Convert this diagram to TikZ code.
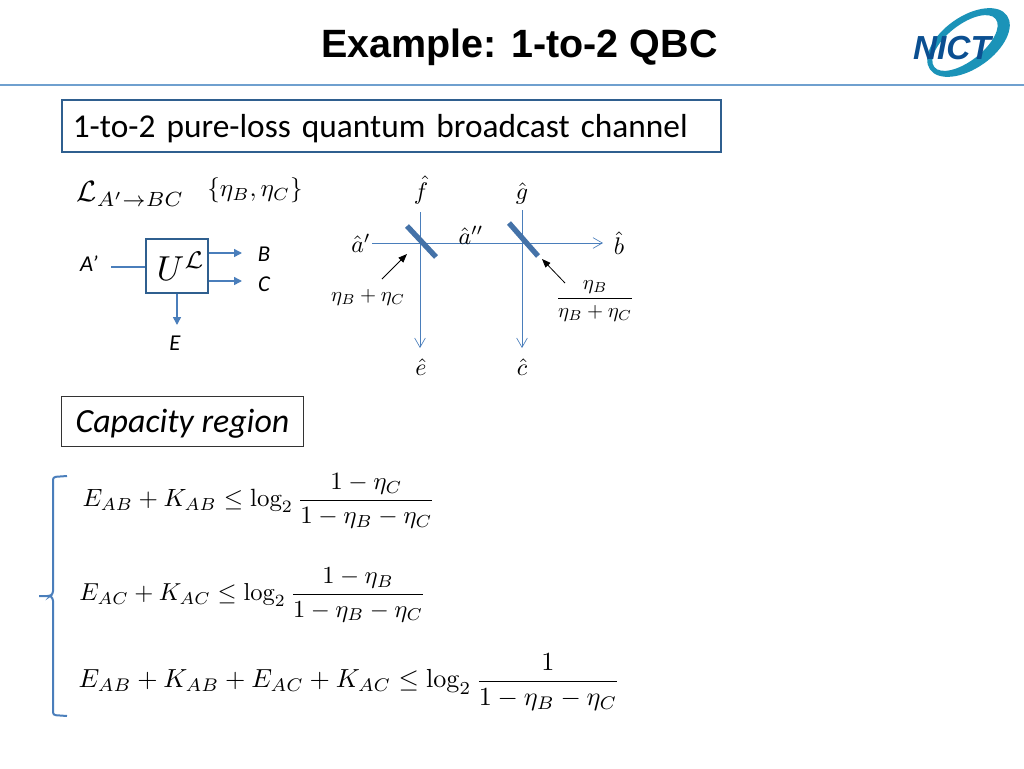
\documentclass[tikz,border=0pt]{standalone}
\usepackage{amsmath}
\usepackage{fontspec}
\newfontfamily\titlefont{Liberation Sans}
\newfontfamily\boxfont{Carlito}
\usetikzlibrary{arrows.meta}
\definecolor{rulecol}{HTML}{6FA0CF}
\definecolor{framecol}{HTML}{2F5F8F}
\definecolor{linecol}{HTML}{4A7EBB}
\definecolor{splitcol}{HTML}{4472A8}
\definecolor{logodark}{HTML}{0B4F91}
\definecolor{logoteal}{HTML}{1B93B8}
\tikzset{
  wire/.style={linecol, line width=0.75pt},
  thinwire/.style={linecol, line width=0.5pt, -{Straight Barb[length=7pt,width=8pt]}},
  outwire/.style={linecol, line width=1.1pt, -{Triangle[length=6pt,width=6pt]}},
  splitter/.style={splitcol, line width=4pt},
  pointer/.style={black, line width=0.6pt, -{Triangle[length=6.5pt,width=5pt]}},
  mathlabel/.style={inner sep=0pt, scale=1.8},
  smallmath/.style={inner sep=0pt, scale=1.55},
  eqnlabel/.style={inner sep=0pt, anchor=west},
  portlabel/.style={inner sep=0pt, font=\boxfont\itshape\fontsize{17}{19}\selectfont}
}
\begin{document}
\begin{tikzpicture}[x=0.75pt, y=-0.75pt]
        \useasboundingbox (0,0) rectangle (1024,768);
        % header
        \node[inner sep=0pt, font=\titlefont\bfseries\fontsize{29.6}{32}\selectfont] (title) at (519.5,47) {Example: 1-to-2 QBC};
        \coordinate (ruleL) at (0,85);  \coordinate (ruleR) at (1024,85);
        \draw[rulecol, line width=1pt] (ruleL) -- (ruleR);
        \fill[logoteal, even odd rule] (968.5,42.5) ellipse [x radius=47, y radius=26, rotate=35]
             (965,43) ellipse [x radius=39, y radius=18, rotate=38];
        \node[inner sep=0pt, text=logodark, font=\titlefont\bfseries\itshape\fontsize{25}{28}\selectfont] (logo) at (952,48) {NICT};
        % boxes
        \node[draw=framecol, line width=1.3pt, minimum width=494pt, minimum height=39pt, text width=478pt, text height=21.5pt, text depth=5pt, inner sep=0pt, font=\boxfont\fontsize{25}{28}\selectfont] (channel) at (391.5,126) {1-to-2 pure-loss quantum broadcast channel};
        \node[draw=black!80, line width=0.6pt, minimum width=181pt, minimum height=38pt, text height=21.5pt, text depth=5pt, inner sep=0pt, font=\boxfont\itshape\fontsize{25.4}{28}\selectfont] (capacity) at (182.5,421.5) {Capacity region};
        % channel block
        \node[inner sep=0pt, scale=2.2, anchor=west] (lchan) at (76,194) {$\mathcal{L}_{A'\rightarrow BC}$};
        \node[inner sep=0pt, scale=1.88] (params) at (255,190) {$\{\eta_B,\eta_C\}$};
        \node[draw=framecol, line width=2pt, minimum width=46.5pt, minimum height=40.5pt, inner sep=0pt] (U) at (177,266) {\hspace*{6pt}\scalebox{2.6}{$U^{\mathcal{L}}$}};
        \node[portlabel] (Ain) at (89,264) {A’};
        \node[portlabel] (Bout) at (264,254) {B};
        \node[portlabel] (Cout) at (264,284) {C};
        \node[portlabel] (Eout) at (175,343) {E};
        \coordinate (Astart) at (111,267);
        \coordinate (Bend) at (242,253);  \coordinate (Cend) at (242,281);  \coordinate (Eend) at (177,325);
        \draw[wire, line width=1.1pt] (Astart) -- (U.west |- Astart);
        \draw[outwire] (U.east |- Bend) -- (Bend);
        \draw[outwire] (U.east |- Cend) -- (Cend);
        \draw[outwire] (U.south) -- (Eend);
        % beam splitters
        \coordinate (fstart) at (420,212);  \coordinate (fend) at (420,348);
        \coordinate (gstart) at (522,210);  \coordinate (gend) at (522,348);
        \coordinate (astart) at (372,243);  \coordinate (aend) at (603,243);
        \draw[thinwire] (fstart) -- (fend);
        \draw[thinwire] (gstart) -- (gend);
        \draw[thinwire] (astart) -- (aend);
        \coordinate (sa1) at (407,226);  \coordinate (sa2) at (436,257);
        \coordinate (sb1) at (509,223);  \coordinate (sb2) at (538,256);
        \draw[splitter] (sa1) -- (sa2);
        \draw[splitter] (sb1) -- (sb2);
        \node[mathlabel] (f) at (421,190) {$\hat{f}$};
        \node[mathlabel] (g) at (522,193) {$\hat{g}$};
        \node[mathlabel] (ap) at (361,243) {$\hat{a}'$};
        \node[mathlabel] (app) at (471,235) {$\hat{a}''$};
        \node[mathlabel] (b) at (619,243) {$\hat{b}$};
        \node[mathlabel] (e) at (421,367) {$\hat{e}$};
        \node[mathlabel] (c) at (522,367) {$\hat{c}$};
        \node[smallmath] (sum) at (368,297) {$\eta_B+\eta_C$};
        \node[smallmath] (ratio) at (595,301) {$\dfrac{\eta_B}{\eta_B+\eta_C}$};
        \coordinate (p1) at (382,279);  \coordinate (p2) at (407,254);
        \coordinate (q1) at (565,283);  \coordinate (q2) at (542,259);
        \draw[pointer] (p1) -- (p2);
        \draw[pointer] (q1) -- (q2);
        % capacity region
        \coordinate (brT) at (67,476);  \coordinate (brB) at (67,716);  \coordinate (brM) at (39,596);
        \draw[linecol, line width=1.5pt, rounded corners=2pt] (brT) -- (53,477) -- (53,594) -- (50,596) -- (brM);
        \draw[linecol, line width=1.5pt, rounded corners=2pt] (brB) -- (53,715) -- (53,598) -- (50,596);
        \node[eqnlabel, scale=1.87] (eq1) at (82,501) {$E_{AB}+K_{AB}\le\log_2\dfrac{1-\eta_C}{1-\eta_B-\eta_C}$};
        \node[eqnlabel, scale=1.84] (eq2) at (79,595) {$E_{AC}+K_{AC}\le\log_2\dfrac{1-\eta_B}{1-\eta_B-\eta_C}$};
        \node[eqnlabel, scale=1.96] (eq3) at (78,682) {$E_{AB}+K_{AB}+E_{AC}+K_{AC}\le\log_2\dfrac{1}{1-\eta_B-\eta_C}$};
      \end{tikzpicture}
\end{document}
